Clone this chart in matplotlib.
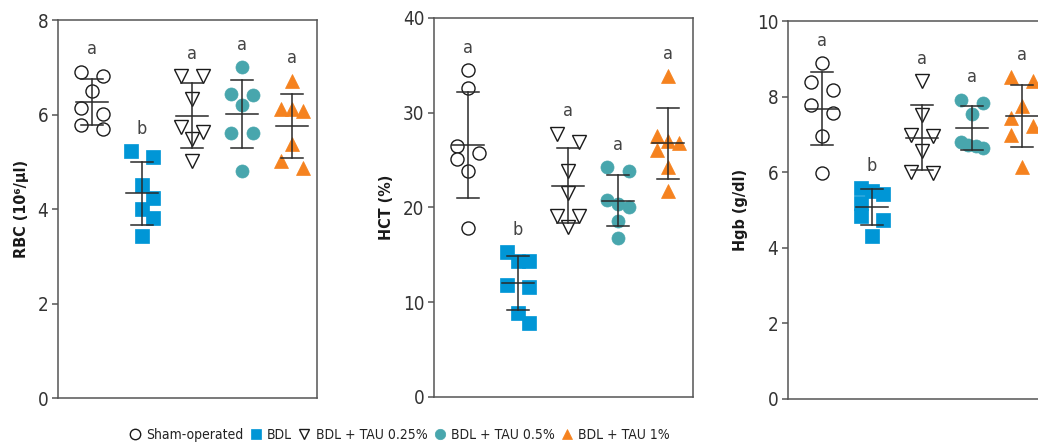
import numpy as np
import matplotlib.pyplot as plt
from matplotlib.lines import Line2D

plt.rcParams['font.family'] = ['DejaVu Sans']
plt.rcParams['font.stretch'] = 'condensed'

groups = ['Sham-operated', 'BDL', 'BDL + TAU 0.25%', 'BDL + TAU 0.5%', 'BDL + TAU 1%']
letters = ['a', 'b', 'a', 'a', 'a']

rbc = [
    [6.91, 6.81, 6.50, 6.14, 6.02, 5.78, 5.69],
    [5.23, 5.11, 4.51, 4.24, 4.00, 3.80, 3.43],
    [6.81, 6.81, 6.33, 5.74, 5.64, 5.49, 5.02],
    [7.00, 6.43, 6.42, 6.21, 5.61, 5.61, 4.80],
    [6.72, 6.11, 6.11, 6.08, 5.37, 5.02, 4.86],
]
hct = [
    [34.5, 32.6, 26.5, 25.7, 25.1, 23.9, 17.8],
    [15.3, 14.4, 14.3, 11.8, 11.6, 8.9, 7.8],
    [27.8, 26.9, 23.8, 21.5, 19.1, 19.1, 17.9],
    [24.3, 23.9, 20.8, 20.4, 20.1, 18.6, 16.8],
    [33.9, 27.5, 27.0, 26.8, 26.1, 24.3, 21.7],
]
hgb = [
    [8.89, 8.38, 8.18, 7.77, 7.56, 6.97, 5.98],
    [5.58, 5.49, 5.43, 5.18, 4.83, 4.74, 4.30],
    [8.40, 7.52, 6.99, 6.95, 6.55, 6.00, 5.98],
    [7.92, 7.83, 7.55, 6.79, 6.73, 6.70, 6.64],
    [8.52, 8.40, 7.74, 7.43, 7.23, 6.99, 6.15],
]

panels = [
    (rbc, 'RBC (10⁶/µl)', [0, 2, 4, 6, 8]),
    (hct, 'HCT (%)', [0, 10, 20, 30, 40]),
    (hgb, 'Hgb (g/dl)', [0, 2, 4, 6, 8, 10]),
]

# marker style per group: (marker, face, edge)
styles = [
    ('o', 'white', '#1a1a1a'),
    ('s', '#0096d6', '#0096d6'),
    ('v', 'white', '#1a1a1a'),
    ('o', '#48a6ad', '#48a6ad'),
    ('^', '#f5821f', '#f5821f'),
]

line_col = '#2a2a2a'
spine_col = '#555555'


def swarm(ax, vals, xc, gap=11, near=9, clear=15):
    # spread points sideways (in pixels) so they do not pile on each other
    t = ax.transData
    ypx = [t.transform((0, v))[1] for v in vals]
    px_x = t.transform((1, 0))[0] - t.transform((0, 0))[0]
    order = sorted(range(len(vals)), key=lambda i: -vals[i])
    rows = []
    for i in order:
        if rows and ypx[rows[-1][0]] - ypx[i] < near:
            rows[-1].append(i)
        else:
            rows.append([i])
    off = [0.0] * len(vals)
    placed = []
    last = 0
    for row in rows:
        if len(row) > 1:
            for k, i in enumerate(row):
                off[i] = np.linspace(-gap, gap, len(row))[k]
                placed.append(i)
            last = 0
            continue
        i = row[0]
        side = -1 if last > 0 else 1
        cands = [0, gap * side, -gap * side]

        def room(dx):
            if not placed:
                return np.inf
            return min(np.hypot(dx - off[j], ypx[i] - ypx[j]) for j in placed)

        best = next((c for c in cands if room(c) >= clear), max(cands, key=room))
        off[i] = best
        placed.append(i)
        last = best
    return [xc + o / px_x for o in off]


fig = plt.figure(figsize=(10.38, 4.45), dpi=100)
rects = [
    [0.0559, 0.1056, 0.2495, 0.8494],
    [0.4181, 0.1079, 0.2495, 0.8517],
    [0.7592, 0.1034, 0.2495, 0.8494],
]

for rect, (data, ylab, yticks) in zip(rects, panels):
    ax = fig.add_axes(rect)
    ax.set_xlim(-0.68, 4.5)
    ax.set_ylim(0, yticks[-1])
    ax.set_yticks(yticks)
    ax.set_xticks([])
    for s in ax.spines.values():
        s.set_color(spine_col)
        s.set_linewidth(1.1)
    ax.tick_params(axis='y', length=4, width=1.1, color=spine_col,
                   labelsize=13.5, labelcolor='#333333', pad=3)
    ax.set_ylabel(ylab, fontsize=11.5, fontweight='bold', color='#1a1a1a', labelpad=6)

    for g, vals in enumerate(data):
        m, fc, ec = styles[g]
        xs = swarm(ax, vals, g)
        ax.plot(xs, vals, ls='none', marker=m, ms=9.4, mfc=fc, mec=ec,
                mew=1.0 if fc == 'white' else 0.5, zorder=3)

        # mean with SD whiskers
        mu = np.mean(vals)
        sd = np.std(vals, ddof=1)
        ax.plot([g - 0.32, g + 0.32], [mu, mu], color=line_col, lw=1.1, zorder=4)
        ax.plot([g, g], [mu - sd, mu + sd], color=line_col, lw=1.1, zorder=4)
        for yy in (mu - sd, mu + sd):
            ax.plot([g - 0.22, g + 0.22], [yy, yy], color=line_col, lw=1.1, zorder=4)

        ax.annotate(letters[g], (g, max(vals)), xytext=(0, 16),
                    textcoords='offset points', ha='center', va='center',
                    fontsize=13, color='#444444')

handles = [
    Line2D([], [], ls='none', marker=m, ms=7.5, mfc=fc, mec=ec,
           mew=1.0 if fc == 'white' else 0.5)
    for m, fc, ec in styles
]
fig.legend(handles, groups, loc='center left', bbox_to_anchor=(0.118, 0.022),
           ncol=5, frameon=False, fontsize=10, handlelength=0.8,
           handletextpad=0.4, columnspacing=0.5, borderpad=0, labelcolor='#222222')

fig.savefig('out.png', dpi=100)
